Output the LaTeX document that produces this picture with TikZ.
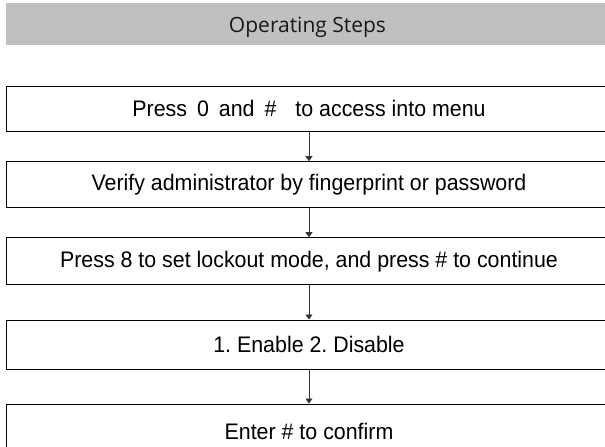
\documentclass[tikz,border=0pt]{standalone}
\usepackage{fontspec}
\setmainfont{Liberation Sans}[FakeStretch=0.95]
\newfontfamily\headfont{Open Sans}
\usetikzlibrary{arrows.meta}
\definecolor{bandgray}{HTML}{C0C0C0}
\tikzset{
  headband/.style={fill=bandgray, draw=none, minimum width=603pt, minimum height=41.5pt, inner sep=0pt},
  headtext/.style={inner sep=0pt, font=\headfont\fontsize{21pt}{25pt}\selectfont, text=black!90},
  stepbox/.style={draw=black, line width=1pt, fill=white, minimum width=606pt, inner sep=0pt,
    font=\fontsize{22.5pt}{27pt}\selectfont, text=black},
  flowarrow/.style={draw=black!80, line width=0.8pt, -{Triangle[length=5pt,width=7pt]}}
}
\begin{document}
\frenchspacing
\begin{tikzpicture}
\useasboundingbox (0pt,0pt) rectangle (605pt,-447pt);
\clip (0pt,0pt) rectangle (605pt,-447pt);
\node[headband] (head) at (307.5pt,-23.75pt) {};
\node[headtext, anchor=base] (headlabel) at (307.5pt,-32.3pt) {Operating Steps};
\node[stepbox, minimum height=44.5pt] (b1) at (309pt,-108.75pt)
  {Press\hspace*{10pt}0\hspace*{10pt}and\hspace*{10pt}\#\hspace*{19pt}to access into menu};
\node[stepbox, minimum height=45.3pt] (b2) at (309pt,-184.35pt)
  {Verify administrator by fingerprint or password};
\node[stepbox, minimum height=47pt] (b3) at (309pt,-261.2pt)
  {Press 8 to set lockout mode, and press \# to continue};
\node[stepbox, minimum height=49pt] (b4) at (309pt,-344.5pt)
  {1. Enable 2. Disable};
\node[stepbox, minimum height=54pt] (b5) at (309pt,-431pt)
  {Enter \# to confirm};
\draw[flowarrow] (b1.south) -- (b2.north);
\draw[flowarrow] (b2.south) -- (b3.north);
\draw[flowarrow] (b3.south) -- (b4.north);
\draw[flowarrow] (b4.south) -- (b5.north);
\end{tikzpicture}
\end{document}
